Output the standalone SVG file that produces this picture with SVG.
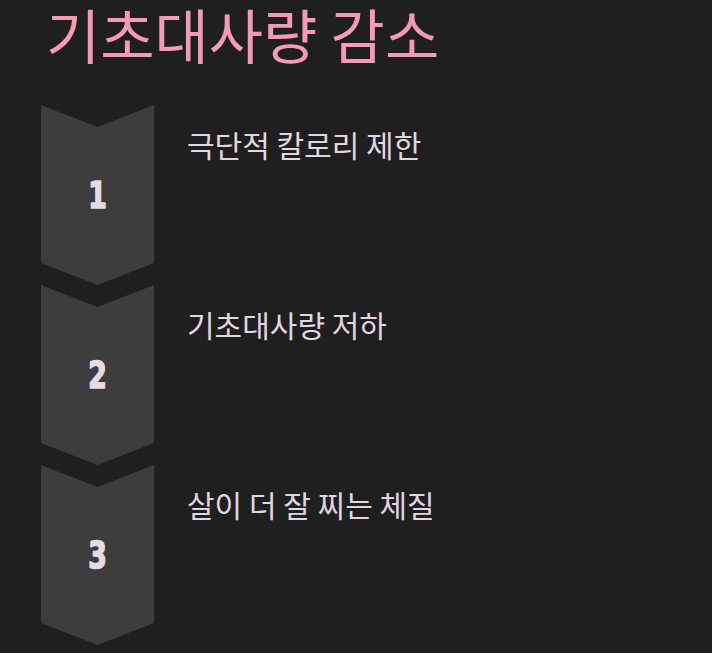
<svg xmlns="http://www.w3.org/2000/svg" width="712" height="653" viewBox="0 0 712 653">
<style>
.bg{fill:#1f1f1f}
.chev{fill:#3d3d3d}
.num{font-family:"DejaVu Sans Condensed","DejaVu Sans","Liberation Sans",sans-serif;font-weight:bold;font-size:38px;fill:#e4dce4;stroke:#e4dce4;stroke-width:1.6;stroke-linejoin:round;text-anchor:middle}
.lbl{font-family:"Noto Sans CJK KR","Noto Sans",sans-serif;font-size:30px;fill:#e0d8e0}
.title{font-family:"Noto Sans CJK KR","Noto Sans",sans-serif;font-size:59px;fill:#f59ab5}
</style>
<rect class="bg" x="0" y="0" width="712" height="653"/>
<text class="title" x="46" y="59">기초대사량 감소</text>
<g id="connectors"></g>
<g id="step1">
<polygon class="chev" points="41,105 97.5,127 154,105 154,263 97.5,285 41,263"/>
<text class="num" transform="translate(97.5,208) scale(0.78,1)">1</text>
<text class="lbl" x="187" y="157">극단적 칼로리 제한</text>
</g>
<g id="step2">
<polygon class="chev" points="41,285 97.5,307 154,285 154,443 97.5,465 41,443"/>
<text class="num" transform="translate(97.5,388) scale(0.78,1)">2</text>
<text class="lbl" x="187" y="337">기초대사량 저하</text>
</g>
<g id="step3">
<polygon class="chev" points="41,465 97.5,487 154,465 154,623 97.5,645 41,623"/>
<text class="num" transform="translate(97.5,568) scale(0.78,1)">3</text>
<text class="lbl" x="187" y="517">살이 더 잘 찌는 체질</text>
</g>
</svg>
